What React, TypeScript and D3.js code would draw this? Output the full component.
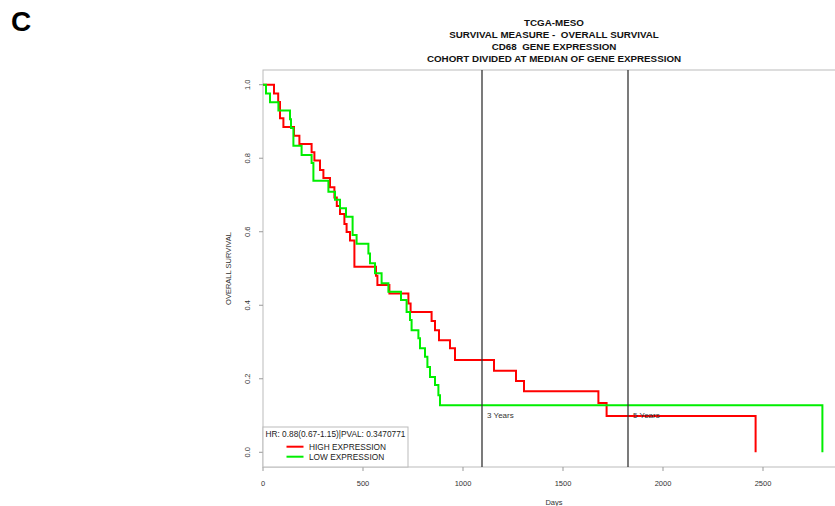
import * as d3 from "d3";
import React, { useEffect, useRef } from "react";

// Title and labels
const titleLines = [
  "TCGA-MESO",
  "SURVIVAL MEASURE -  OVERALL SURVIVAL",
  "CD68  GENE EXPRESSION",
  "COHORT DIVIDED AT MEDIAN OF GENE EXPRESSION",
];
const xTicks = [0, 500, 1000, 1500, 2000, 2500];
const yTicks = [0, 0.2, 0.4, 0.6, 0.8, 1.0];
const markerDays = [1095, 1825];
const markerLabels = ["3 Years", "5 Years"];
const legendLabels = ["HIGH EXPRESSION", "LOW EXPRESSION"];
const statsText = "HR: 0.88(0.67-1.15)|PVAL: 0.3470771";

// Kaplan-Meier steps
const highDays = [0, 55, 76, 85, 102, 155, 182, 243, 257, 285, 302, 335, 357, 369, 385, 407, 418, 435, 457, 565, 572, 632, 727, 738, 843, 860, 880, 935, 960, 1155, 1265, 1305, 1677, 1718, 2463];
const highSurv = [1.0, 0.976, 0.953, 0.909, 0.885, 0.861, 0.839, 0.816, 0.794, 0.768, 0.746, 0.721, 0.693, 0.67, 0.648, 0.621, 0.599, 0.576, 0.505, 0.48, 0.455, 0.432, 0.405, 0.382, 0.357, 0.332, 0.305, 0.283, 0.251, 0.222, 0.194, 0.166, 0.134, 0.099, 0.0];
const lowDays = [0, 15, 35, 77, 135, 140, 152, 193, 243, 252, 327, 360, 385, 415, 448, 468, 527, 535, 560, 593, 627, 690, 718, 735, 743, 777, 785, 810, 822, 835, 860, 877, 885, 2797];
const lowSurv = [1.0, 0.976, 0.952, 0.93, 0.906, 0.882, 0.834, 0.809, 0.787, 0.739, 0.709, 0.687, 0.664, 0.641, 0.591, 0.567, 0.541, 0.514, 0.487, 0.46, 0.437, 0.414, 0.382, 0.36, 0.332, 0.31, 0.283, 0.26, 0.232, 0.205, 0.183, 0.155, 0.128, 0.0];

const App = () => {
  const ref = useRef<SVGSVGElement | null>(null);

  useEffect(() => {
    const svg = d3.select(ref.current);
    svg.selectAll("*").remove();

    const font = "'Liberation Sans', Arial, sans-serif";
    const left = 263;
    const right = 845;
    const top = 70;
    const bottom = 467;

    const x = d3.scaleLinear().domain([0, 2910]).range([left, right]);
    const y = d3.scaleLinear().domain([-0.04, 1.04]).range([bottom, top]);

    // panel letter
    svg.append("text")
      .attr("x", 11).attr("y", 31)
      .attr("font-family", font).attr("font-weight", "bold").attr("font-size", 28)
      .text("C");

    // title
    svg.selectAll("text.title")
      .data(titleLines)
      .enter()
      .append("text")
      .attr("class", "title")
      .attr("x", (left + right) / 2)
      .attr("y", (_, i) => 25.5 + i * 12)
      .attr("text-anchor", "middle")
      .attr("font-family", font).attr("font-weight", "bold").attr("font-size", 9.8)
      .attr("fill", "#111")
      .style("white-space", "pre")
      .text((d) => d);

    // plot box
    svg.append("rect")
      .attr("x", left).attr("y", top)
      .attr("width", right - left).attr("height", bottom - top)
      .attr("fill", "none").attr("stroke", "#bbb").attr("stroke-width", 1);

    // x axis
    const xAxis = svg.append("g");
    xAxis.selectAll("line")
      .data(xTicks).enter().append("line")
      .attr("x1", (d) => x(d)).attr("x2", (d) => x(d))
      .attr("y1", bottom).attr("y2", bottom + 4)
      .attr("stroke", "#999");
    xAxis.selectAll("text")
      .data(xTicks).enter().append("text")
      .attr("x", (d) => x(d)).attr("y", bottom + 18.5)
      .attr("text-anchor", "middle")
      .attr("font-family", font).attr("font-size", 7.5).attr("fill", "#333")
      .text((d) => d);
    svg.append("text")
      .attr("x", (left + right) / 2).attr("y", 504.5)
      .attr("text-anchor", "middle")
      .attr("font-family", font).attr("font-size", 7.5).attr("fill", "#333")
      .text("Days");

    // y axis
    const yAxis = svg.append("g");
    yAxis.selectAll("line")
      .data(yTicks).enter().append("line")
      .attr("x1", left - 4).attr("x2", left)
      .attr("y1", (d) => y(d)).attr("y2", (d) => y(d))
      .attr("stroke", "#999");
    yAxis.selectAll("text")
      .data(yTicks).enter().append("text")
      .attr("transform", (d) => `translate(${left - 13},${y(d)}) rotate(-90)`)
      .attr("text-anchor", "middle")
      .attr("font-family", font).attr("font-size", 7.5).attr("fill", "#333")
      .text((d) => d.toFixed(1));
    svg.append("text")
      .attr("transform", `translate(231,${(top + bottom) / 2}) rotate(-90)`)
      .attr("text-anchor", "middle")
      .attr("font-family", font).attr("font-size", 7.5).attr("fill", "#333")
      .text("OVERALL SURVIVAL");

    // survival curves
    const curves = [
      { days: highDays, surv: highSurv, color: "#ff0000" },
      { days: lowDays, surv: lowSurv, color: "#00ee00" },
    ];
    const line = d3.line<[number, number]>()
      .x((d) => x(d[0]))
      .y((d) => y(d[1]))
      .curve(d3.curveStepAfter);
    curves.forEach((c) => {
      const pts = c.days.map((d, i) => [d, c.surv[i]] as [number, number]);
      svg.append("path")
        .attr("d", line(pts))
        .attr("fill", "none")
        .attr("stroke", c.color)
        .attr("stroke-width", 2);
    });

    // year markers
    markerDays.forEach((d, i) => {
      svg.append("line")
        .attr("x1", x(d)).attr("x2", x(d))
        .attr("y1", top).attr("y2", bottom)
        .attr("stroke", "#333").attr("stroke-width", 1.3);
      svg.append("text")
        .attr("x", x(d) + 5).attr("y", y(0.1) + 2.5)
        .attr("font-family", font).attr("font-size", 8).attr("fill", "#333")
        .text(markerLabels[i]);
    });

    // legend
    const lg = svg.append("g");
    lg.append("rect")
      .attr("x", left).attr("y", 427)
      .attr("width", 145).attr("height", bottom - 427)
      .attr("fill", "#fff").attr("stroke", "#bbb");
    lg.append("text")
      .attr("x", left + 2.5).attr("y", 436.5)
      .attr("font-family", font).attr("font-size", 8.3).attr("fill", "#222")
      .text(statsText);
    legendLabels.forEach((lab, i) => {
      const ly = 446.7 + i * 10;
      lg.append("line")
        .attr("x1", 286.5).attr("x2", 303.5)
        .attr("y1", ly).attr("y2", ly)
        .attr("stroke", curves[i].color).attr("stroke-width", 2);
      lg.append("text")
        .attr("x", 309).attr("y", ly + 3)
        .attr("font-family", font).attr("font-size", 8.3).attr("fill", "#222")
        .text(lab);
    });
  }, []);

  return (
    <div style={{ position: "fixed", left: 0, top: 0 }}>
      <svg ref={ref} width={835} height={506} style={{ display: "block", background: "#fff" }} />
    </div>
  );
};

export default App;
